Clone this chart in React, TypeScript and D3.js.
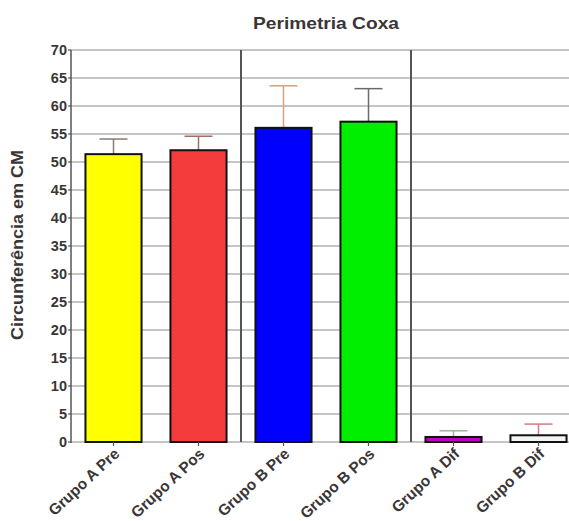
import React from "react";
import * as d3 from "d3";

const categories = ["Grupo A Pre", "Grupo A Pos", "Grupo B Pre", "Grupo B Pos", "Grupo A Dif", "Grupo B Dif"];
const means = [51.4, 52.1, 56.1, 57.2, 0.9, 1.2];
const errors = [2.7, 2.5, 7.5, 5.9, 1.1, 2.0];
const fills = ["#ffff00", "#f53c3c", "#0000ff", "#00ee00", "#c000c0", "#f4f4f4"];
const errColors = ["#8a7a70", "#a07068", "#d8a07c", "#6a6a6a", "#9ab89a", "#d87888"];
const yTicks = [0, 5, 10, 15, 20, 25, 30, 35, 40, 45, 50, 55, 60, 65, 70];
const separatorsAfter = [1, 3];

const W = 569, H = 521;
const left = 71, top = 50, bottom = 442;
const step = 85;

export default function App() {
  const x = d3.scaleBand<string>().domain(categories).range([left, left + step * categories.length]).paddingInner(0.34).paddingOuter(0.17);
  const y = d3.scaleLinear().domain([0, 70]).range([bottom, top]);
  const font = "'Liberation Sans', Arial, sans-serif";
  const textColor = "#3a3636";
  return (
    <svg width={W} height={H} style={{ position: "absolute", left: 0, top: 0, background: "#fff" }} fontFamily={font}>
      <text x={326} y={29} textAnchor="middle" fontSize={16.5} fontWeight="bold" fill={textColor} textLength={146} lengthAdjust="spacingAndGlyphs">Perimetria Coxa</text>
      {yTicks.map((t) => (
        <g key={t}>
          <line x1={left} x2={W} y1={y(t)} y2={y(t)} stroke="#8c8c8c" strokeWidth={1.2} />
          <line x1={left - 3} x2={left} y1={y(t)} y2={y(t)} stroke="#555" strokeWidth={1.2} />
          <text x={left - 4} y={y(t)} dy="0.36em" textAnchor="end" fontSize={14.5} fontWeight="bold" fill={textColor}>{t}</text>
        </g>
      ))}
      <line x1={left} x2={left} y1={top} y2={bottom + 1} stroke="#555" strokeWidth={1.5} />
      {separatorsAfter.map((i) => {
        const sx = left + step * (i + 1);
        return <line key={i} x1={sx} x2={sx} y1={top} y2={bottom} stroke="#555" strokeWidth={2} />;
      })}
      {categories.map((c, i) => {
        const bx = x(c)!;
        const bw = x.bandwidth();
        const cx = bx + bw / 2;
        const capW = 28;
        return (
          <g key={c}>
            <line x1={cx} x2={cx} y1={y(means[i])} y2={y(means[i] + errors[i])} stroke={errColors[i]} strokeWidth={1.5} />
            <line x1={cx - capW / 2} x2={cx + capW / 2} y1={y(means[i] + errors[i])} y2={y(means[i] + errors[i])} stroke={errColors[i]} strokeWidth={1.5} />
            <rect x={bx} y={y(means[i])} width={bw} height={y(0) - y(means[i])} fill={fills[i]} stroke="#111" strokeWidth={2} />
            <line x1={cx} x2={cx} y1={bottom} y2={bottom + 4} stroke="#555" strokeWidth={1.2} />
            <text transform={`translate(${cx + 7},${bottom + 13}) rotate(-43)`} textAnchor="end" fontSize={15.5} fontWeight="bold" fill={textColor}>{c}</text>
          </g>
        );
      })}
      <text transform={`translate(23,${245}) rotate(-90)`} textAnchor="middle" fontSize={16} fontWeight="bold" fill={textColor} textLength={190} lengthAdjust="spacingAndGlyphs">Circunferência em CM</text>
    </svg>
  );
}
